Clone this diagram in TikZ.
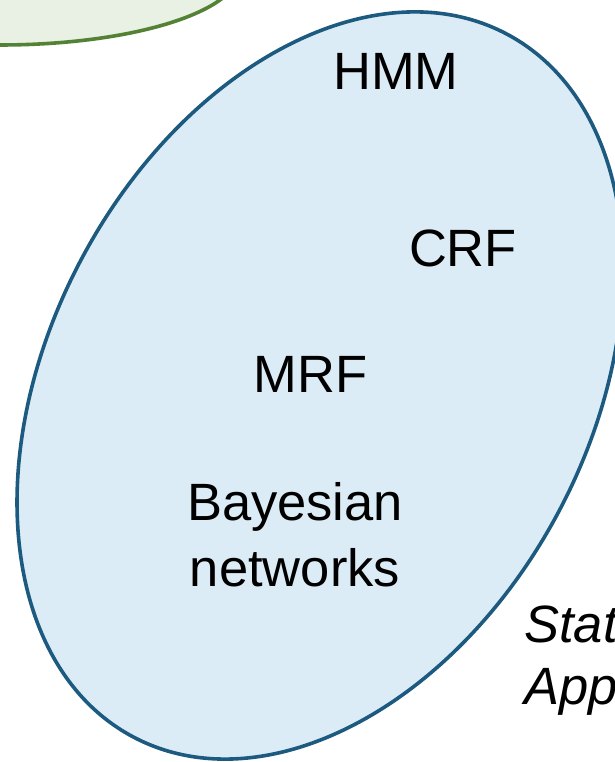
\documentclass[tikz,border=0pt]{standalone}
\usepackage{fontspec}
\setmainfont{Liberation Sans}
\definecolor{setblue}{HTML}{1D5A80}
\definecolor{setbluefill}{HTML}{DCECF7}
\definecolor{setgreen}{HTML}{548235}
\definecolor{setgreenfill}{HTML}{E8F1E3}
\tikzset{
  setline/.style={line width=3.6bp},
  label/.style={inner sep=0pt, font=\fontsize{52.5bp}{62bp}\selectfont, text=black},
}
\begin{document}
\begin{tikzpicture}[x=1bp, y=1bp]
  \useasboundingbox (0,0) rectangle (615,762);
  \clip (0,0) rectangle (615,762);

  % neighbouring set, mostly above the frame
  \draw[setline, draw=setgreen, fill=setgreenfill] (0,792) ellipse [x radius=240, y radius=75];

  % tilted set of graphical models
  \draw[setline, draw=setblue, fill=setbluefill, rotate around={61.96:(320,376.5)}]
    (320,376.5) ellipse [x radius=398, y radius=270];

  \node[label, anchor=base] (hmm) at (396,672) {HMM};
  \node[label, anchor=base] (crf) at (463,495) {CRF};
  \node[label, anchor=base] (mrf) at (310.5,369) {MRF};
  \node[label, align=center] (bn) at (295,227) {Bayesian\\[4bp]networks};

  % caption of the neighbouring set
  \node[label, anchor=base west, font=\fontsize{52.5bp}{62bp}\selectfont\itshape] (stat) at (524,119) {Stat};
  \node[label, anchor=base west, font=\fontsize{52.5bp}{62bp}\selectfont\itshape] (app) at (524,57) {App};
\end{tikzpicture}
\end{document}
